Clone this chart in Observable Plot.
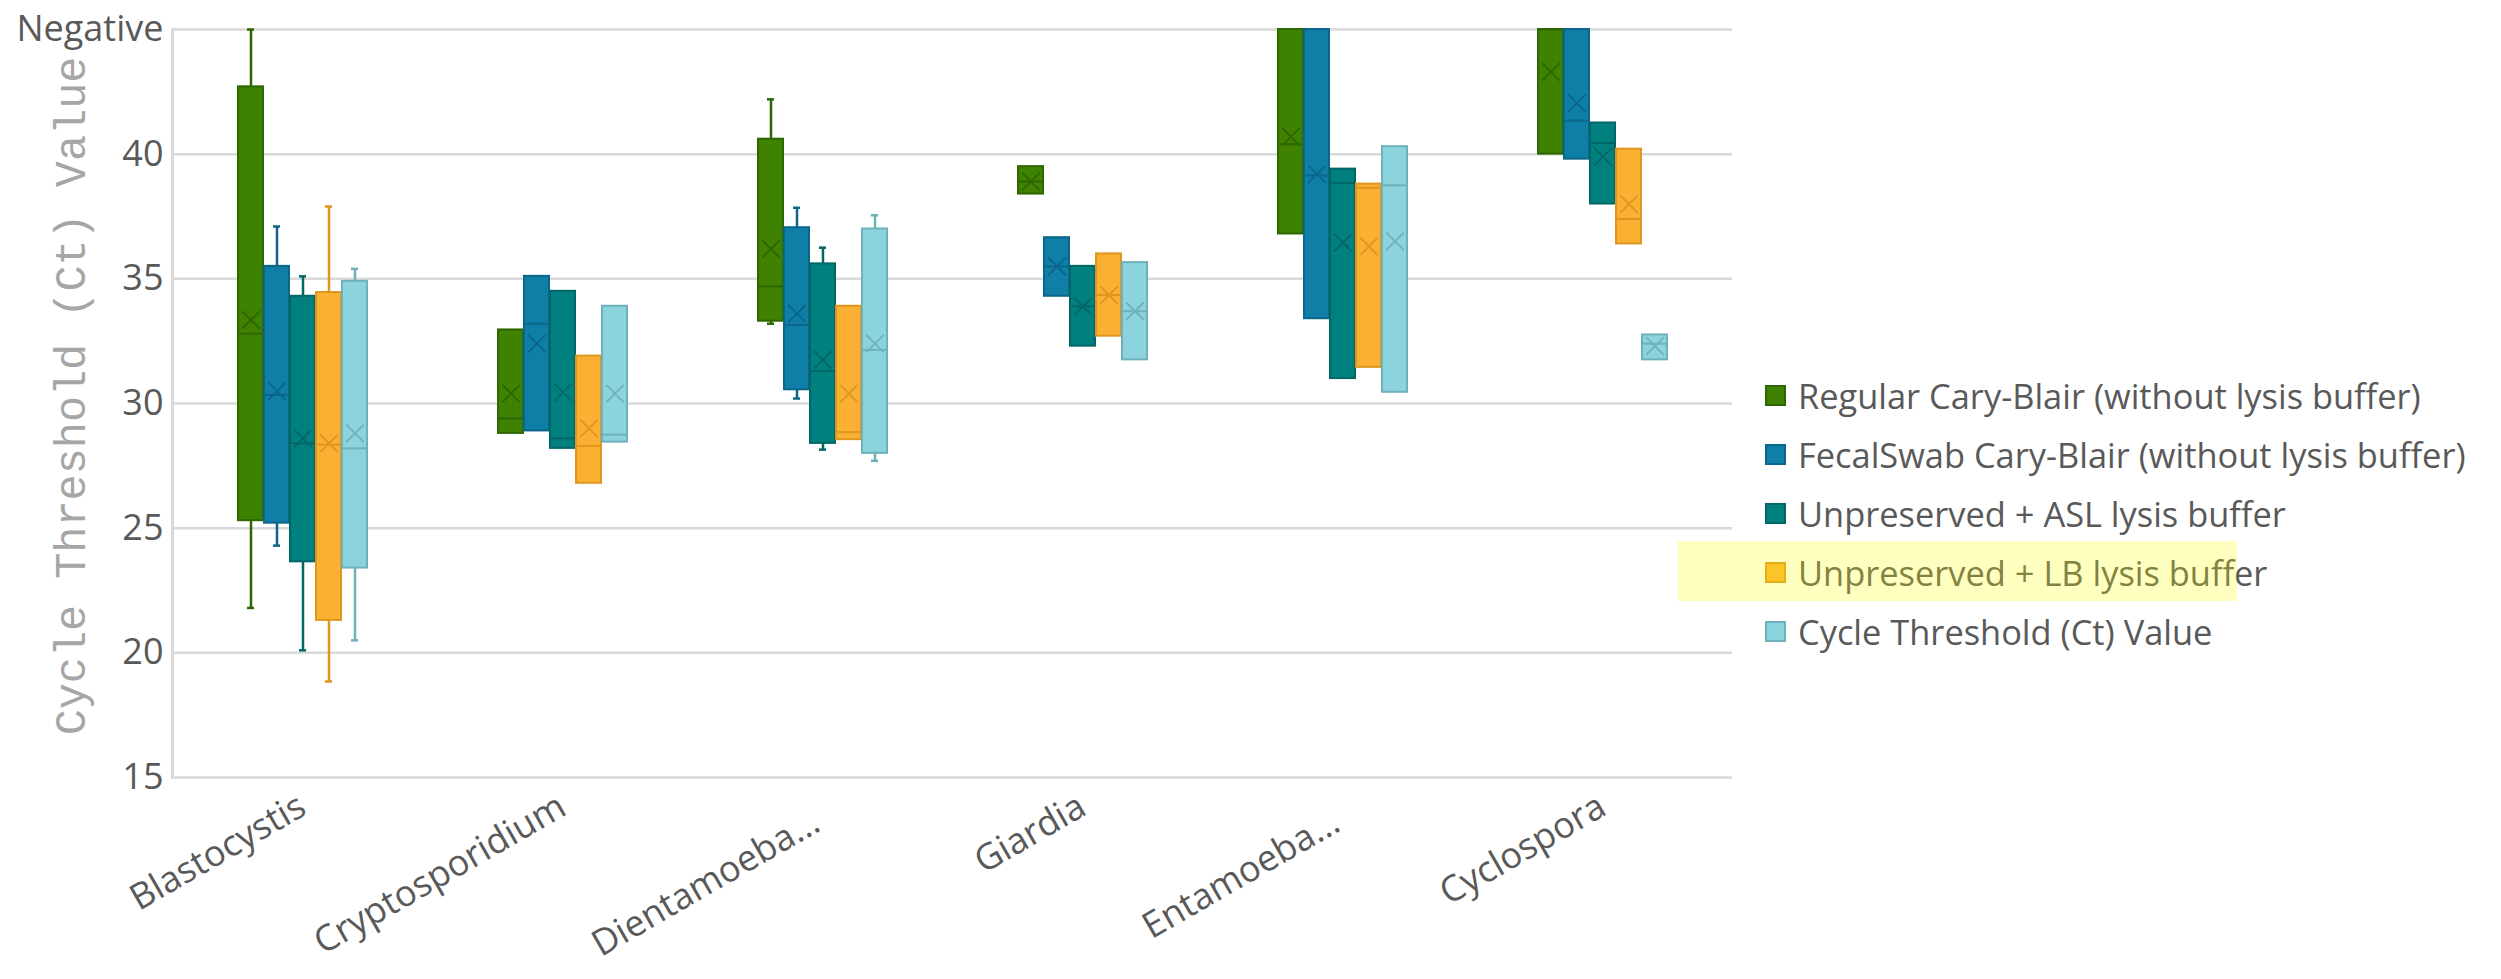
<!DOCTYPE html>
<html><head><meta charset="utf-8">
<script src="https://cdn.jsdelivr.net/npm/d3@7"></script>
<script src="https://cdn.jsdelivr.net/npm/@observablehq/plot@0.6"></script>
<style>
body{margin:0;background:#fff;}
#wrap{position:relative;width:2501px;height:979px;overflow:hidden;font-family:"Open Sans",sans-serif;}
#chart{position:absolute;left:0;top:0;}
#ytitle{position:absolute;left:73px;top:396px;transform:translate(-50%,-50%) rotate(-90deg);font-family:"Liberation Mono",monospace;font-size:43.5px;color:#a6a6a6;white-space:nowrap;}
#legend{position:absolute;left:1765px;top:366px;}
.item{display:flex;align-items:center;height:59px;font-size:34.4px;color:#595959;white-space:nowrap;}
.sw{width:17px;height:17px;border:2px solid;margin-right:12px;flex:none;}
#hl{position:absolute;left:1678px;top:541px;width:559px;height:60px;background:rgba(255,255,0,0.25);}
</style></head>
<body><div id="wrap"><div id="chart"></div><div id="ytitle">Cycle Threshold (Ct) Value</div><div id="legend"></div><div id="hl"></div></div>
<script>
// Categories (x axis) and series (legend)
const categories = ["Blastocystis", "Cryptosporidium", "Dientamoeba…", "Giardia", "Entamoeba…", "Cyclospora"];
const truncatedCategories = ["Dientamoeba…", "Entamoeba…"];
const seriesNames = [
  "Regular Cary-Blair (without lysis buffer)",
  "FecalSwab Cary-Blair (without lysis buffer)",
  "Unpreserved + ASL lysis buffer",
  "Unpreserved + LB lysis buffer",
  "Cycle Threshold (Ct) Value"
];
const yTicks = [15, 20, 25, 30, 35, 40, 45];
const yTickLabels = ["15", "20", "25", "30", "35", "40", "Negative"];

// Per category: [whisker min, Q1, median, Q3, whisker max, mean]
const regularCaryBlair = [
  [21.8, 25.3, 32.8, 42.7, 45, 33.35],
  [null, 28.8, 29.4, 32.95, null, 30.4],
  [33.2, 33.3, 34.7, 40.6, 42.2, 36.2],
  [null, 38.4, 38.9, 39.5, null, 38.9],
  [null, 36.8, 40.4, 45, null, 40.7],
  [null, 40.0, 45, 45, null, 43.3]
];
const fecalSwabCaryBlair = [
  [24.3, 25.2, 30.35, 35.5, 37.1, 30.5],
  [null, 28.9, 33.2, 35.1, null, 32.4],
  [30.2, 30.55, 33.15, 37.05, 37.85, 33.6],
  [null, 34.3, 35.5, 36.65, null, 35.5],
  [null, 33.4, 39.15, 45, null, 39.2],
  [null, 39.8, 41.35, 45, null, 42.05]
];
const unpreservedASL = [
  [20.1, 23.65, 28.4, 34.3, 35.1, 28.6],
  [null, 28.2, 28.6, 34.5, null, 30.45],
  [28.15, 28.4, 31.3, 35.6, 36.25, 31.75],
  [null, 32.3, 33.9, 35.5, null, 33.9],
  [null, 31.0, 38.85, 39.4, null, 36.45],
  [null, 38.0, 40.45, 41.25, null, 39.9]
];
const unpreservedLB = [
  [18.85, 21.3, 28.35, 34.45, 37.9, 28.4],
  [null, 26.8, 28.3, 31.9, null, 29.0],
  [null, 28.55, 28.85, 33.9, null, 30.4],
  [null, 32.7, 34.35, 36.0, null, 34.35],
  [null, 31.45, 38.65, 38.8, null, 36.3],
  [null, 36.4, 37.4, 40.2, null, 38.0]
];
const ctValue = [
  [20.5, 23.4, 28.2, 34.9, 35.4, 28.8],
  [null, 28.45, 28.75, 33.9, null, 30.4],
  [27.7, 28.0, 32.15, 37.0, 37.55, 32.4],
  [null, 31.75, 33.7, 35.65, null, 33.7],
  [null, 30.45, 38.75, 40.3, null, 36.5],
  [null, 31.75, 32.4, 32.75, null, 32.3]
];

const fills = ["#3f8100", "#0f7fa8", "#00807f", "#fbb034", "#8bd4de"];
const strokes = ["#2e6600", "#0b6689", "#006666", "#dd961f", "#6eb1bb"];

const seriesData = [regularCaryBlair, fecalSwabCaryBlair, unpreservedASL, unpreservedLB, ctValue];
const rows = [];
seriesData.forEach((arr, si) => arr.forEach((v, ci) => rows.push({
  category: categories[ci], series: seriesNames[si], si,
  min: v[0], q1: v[1], median: v[2], q3: v[3], max: v[4], mean: v[5]
})));
const whiskers = rows.filter(d => d.min != null);
const fillOf = d => fills[d.si];
const strokeOf = d => strokes[d.si];
const fxAxisStyle = {anchor: "bottom", tickRotate: -30, tickSize: 0, tickPadding: 26, fontSize: 36, color: "#595959", label: null};

const plot = Plot.plot({
  width: 2501, height: 979,
  marginLeft: 172, marginRight: 769, marginTop: 29, marginBottom: 202,
  style: {fontFamily: "'Open Sans', sans-serif", background: "transparent", overflow: "visible"},
  fx: {domain: categories, padding: 0, label: null},
  x: {domain: seriesNames, axis: null, paddingInner: 0.05, paddingOuter: 2.47},
  y: {domain: [15, 45], axis: null},
  color: {type: "identity"},
  marks: [
    Plot.ruleY(yTicks, {stroke: "#d9d9d9", strokeWidth: 2.5}),
    Plot.frame({anchor: "left", facetAnchor: "left", stroke: "#d9d9d9", strokeWidth: 3}),
    Plot.axisY({ticks: yTicks, tickFormat: d => yTickLabels[yTicks.indexOf(d)], tickSize: 0, tickPadding: 9, fontSize: 36, color: "#595959", label: null}),
    Plot.axisFx({...fxAxisStyle, ticks: categories.filter(c => !truncatedCategories.includes(c))}),
    Plot.axisFx({...fxAxisStyle, ticks: truncatedCategories, dy: 16, dx: -6}),
    Plot.ruleX(whiskers, {fx: "category", x: "series", y1: "min", y2: "max", stroke: strokeOf, strokeWidth: 2.5}),
    Plot.tickY(whiskers, {fx: "category", x: "series", y: "min", stroke: strokeOf, strokeWidth: 2.5, insetLeft: 9, insetRight: 9}),
    Plot.tickY(whiskers, {fx: "category", x: "series", y: "max", stroke: strokeOf, strokeWidth: 2.5, insetLeft: 9, insetRight: 9}),
    Plot.barY(rows, {fx: "category", x: "series", y1: "q1", y2: "q3", fill: fillOf, stroke: strokeOf, strokeWidth: 2}),
    Plot.tickY(rows, {fx: "category", x: "series", y: "median", stroke: strokeOf, strokeWidth: 2}),
    Plot.dot(rows, {fx: "category", x: "series", y: "mean", symbol: "times", r: 8, stroke: strokeOf, strokeWidth: 1.8})
  ]
});
document.getElementById("chart").appendChild(plot);

const legend = document.getElementById("legend");
seriesNames.forEach((name, i) => {
  const item = document.createElement("div");
  item.className = "item";
  const sw = document.createElement("span");
  sw.className = "sw";
  sw.style.background = fills[i];
  sw.style.borderColor = strokes[i];
  const t = document.createElement("span");
  t.textContent = name;
  item.appendChild(sw); item.appendChild(t);
  legend.appendChild(item);
});
</script>
</body></html>
